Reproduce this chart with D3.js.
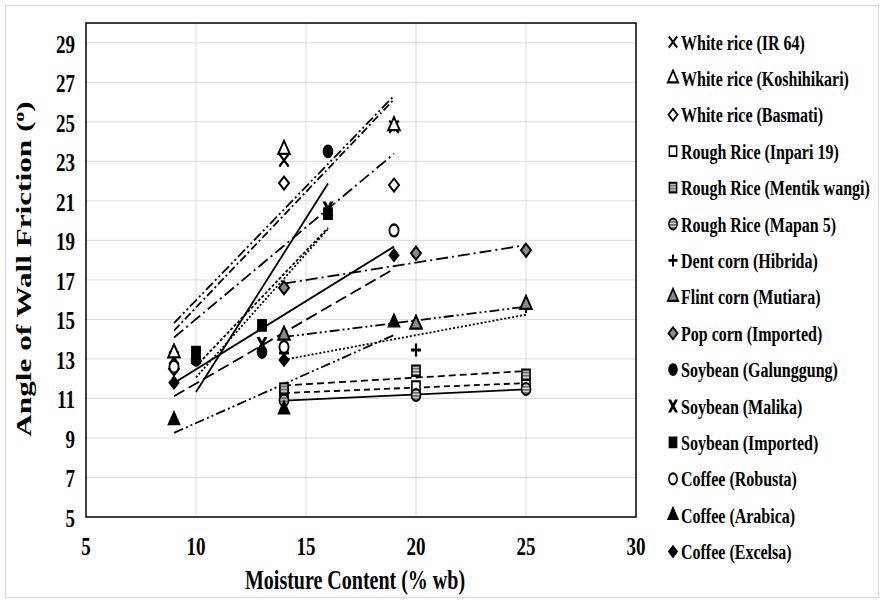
<!DOCTYPE html>
<html>
<head>
<meta charset="utf-8">
<script src="https://cdn.jsdelivr.net/npm/d3@7/dist/d3.min.js"></script>
<style>
  body { margin: 0; background: #fff; }
  text { font-family: "Liberation Serif", "Times New Roman", serif; font-weight: bold; fill: #000; }
</style>
</head>
<body>
<div id="chart"></div>
<script>
// moisture content (% wb) for each product group
var mcWhiteRice = [9, 14, 19]
var mcRoughRice = [14, 20, 25]
var mcCorn = [14, 20, 25]
var mcSoybean = [10, 13, 16]
var mcCoffee = [9, 14, 19]

// angle of wall friction (deg)
var afIR64 = [13.05, 23.05, 24.75]
var afKoshihikari = [13.3, 23.6, 24.8]
var afBasmati = [12.5, 21.9, 21.8]
var afInpari = [11.25, 11.6, 11.75]
var afMentik = [11.5, 12.4, 12.2]
var afMapan = [10.9, 11.17, 11.48]
var afDent = [13.3, 13.45, 15.65]
var afFlint = [14.2, 14.75, 15.75]
var afPop = [16.6, 18.35, 18.5]
var afGalunggung = [12.95, 13.35, 23.5]
var afMalika = [13.1, 13.75, 20.6]
var afImported = [13.35, 14.7, 20.35]
var afRobusta = [12.6, 13.6, 19.5]
var afArabica = [9.9, 10.45, 14.85]
var afExcelsa = [11.8, 12.95, 18.25]

var seriesNames = ["White rice (IR 64)", "White rice (Koshihikari)", "White rice (Basmati)",
  "Rough Rice (Inpari 19)", "Rough Rice (Mentik wangi)", "Rough Rice (Mapan 5)",
  "Dent  corn (Hibrida)", "Flint corn (Mutiara)", "Pop corn (Imported)",
  "Soybean (Galunggung)", "Soybean (Malika)", "Soybean (Imported)",
  "Coffee (Robusta)", "Coffee (Arabica)", "Coffee (Excelsa)"]

var yTicks = [5, 7, 9, 11, 13, 15, 17, 19, 21, 23, 25, 27, 29]
var xTicks = [5, 10, 15, 20, 25, 30]

var W = 884, H = 603
var SY = 1.35 // the original picture is stretched vertically

var svg = d3.select("#chart").append("svg")
  .attr("width", W)
  .attr("height", H)

// stripe pattern for the hatched markers
var defs = svg.append("defs")
var pat = defs.append("pattern")
  .attr("id", "stripes")
  .attr("patternUnits", "userSpaceOnUse")
  .attr("width", 4).attr("height", 2.4)
pat.append("rect").attr("width", 4).attr("height", 2.4).attr("fill", "#6e6e6e")
pat.append("rect").attr("y", 1.5).attr("width", 4).attr("height", 0.9).attr("fill", "#dcdcdc")

// outer chart border
svg.append("rect")
  .attr("x", 5.5).attr("y", 5.5)
  .attr("width", W - 11).attr("height", H - 11)
  .attr("fill", "none")
  .attr("stroke", "#d9d9d9")

var x = d3.scaleLinear().domain([5, 30]).range([86, 636])
var y = d3.scaleLinear().domain([5, 30]).range([517, 23])

// gridlines
svg.append("g").selectAll("line")
  .data(yTicks.slice(1))
  .enter().append("line")
  .attr("x1", x(5)).attr("x2", x(30))
  .attr("y1", function(d) { return y(d) }).attr("y2", function(d) { return y(d) })
  .attr("stroke", "#dcdcdc")
svg.append("g").selectAll("line")
  .data(xTicks.slice(1, -1))
  .enter().append("line")
  .attr("y1", y(5)).attr("y2", y(30))
  .attr("x1", function(d) { return x(d) }).attr("x2", function(d) { return x(d) })
  .attr("stroke", "#dcdcdc")

// tick labels
svg.append("g").selectAll("text")
  .data(yTicks)
  .enter().append("text")
  .attr("transform", function(d) { return "translate(75," + (y(d) + 1) + ") scale(1," + SY + ")" })
  .attr("text-anchor", "end")
  .attr("dy", "0.35em")
  .style("font-size", "19px")
  .text(function(d) { return d })

svg.append("g").selectAll("text")
  .data(xTicks)
  .enter().append("text")
  .attr("transform", function(d) { return "translate(" + x(d) + ",546) scale(1," + SY + ")" })
  .attr("text-anchor", "middle")
  .attr("dy", "0.35em")
  .style("font-size", "19px")
  .text(function(d) { return d })

// plot frame
svg.append("rect")
  .attr("x", x(5)).attr("y", y(30))
  .attr("width", x(30) - x(5)).attr("height", y(5) - y(30))
  .attr("fill", "none")
  .attr("stroke", "#000")
  .attr("stroke-width", 1.5)

// axis titles
svg.append("text")
  .attr("transform", "translate(355,580) scale(1," + SY + ")")
  .attr("text-anchor", "middle")
  .attr("dy", "0.35em")
  .style("font-size", "20px")
  .text("Moisture Content (% wb)")

var yt = svg.append("text")
  .attr("transform", "translate(23,269) rotate(-90) scale(1.42,1)")
  .attr("text-anchor", "middle")
  .attr("dy", "0.35em")
  .style("font-size", "22px")
yt.append("tspan").text("Angle of Wall Friction (")
yt.append("tspan").attr("dy", -7).style("font-size", "14px").text("o")
yt.append("tspan").attr("dy", 7).text(")")

// markers
var malikaPath = "M-5.5,-5.5h3.3l2.2,3.3 2.2,-3.3h3.3l-3.7,5.5 3.7,5.5h-3.3l-2.2,-3.3 -2.2,3.3h-3.3l3.7,-5.5z"
var diamondPath = "M0,-5L5,0L0,5L-5,0Z"
function sym(type, size) { return d3.symbol().type(type).size(size)() }
var markers = [
  { d: sym(d3.symbolX, 60), fill: "none", stroke: "#000", sw: 2 },
  { d: sym(d3.symbolTriangle, 58), fill: "#fff", stroke: "#000", sw: 1.8 },
  { d: diamondPath, fill: "#fff", stroke: "#000", sw: 1.8 },
  { d: sym(d3.symbolSquare, 66), fill: "#fff", stroke: "#000", sw: 1.6 },
  { d: sym(d3.symbolSquare, 66), fill: "url(#stripes)", stroke: "#000", sw: 1.6 },
  { d: sym(d3.symbolCircle, 66), fill: "url(#stripes)", stroke: "#000", sw: 1.6 },
  { plus: true },
  { d: sym(d3.symbolTriangle, 58), fill: "#8a8a8a", stroke: "#000", sw: 1.8 },
  { d: diamondPath, fill: "#8a8a8a", stroke: "#000", sw: 1.8 },
  { d: sym(d3.symbolCircle, 72), fill: "#000", stroke: "#000", sw: 1 },
  { d: malikaPath, fill: "#000", stroke: "none", sw: 0 },
  { d: sym(d3.symbolSquare, 76), fill: "#000", stroke: "#000", sw: 1 },
  { d: sym(d3.symbolCircle, 66), fill: "#fff", stroke: "#000", sw: 1.8 },
  { d: sym(d3.symbolTriangle, 60), fill: "#000", stroke: "#000", sw: 1 },
  { d: diamondPath, fill: "#000", stroke: "#000", sw: 1 }
]
var dashes = ["8,3,2,3", "10,3,2,3,2,3", "12,4,2,4", "6,4", "7,4", null,
  "2,2", "10,3,2,3,2,3", "12,4,2,4", null, "2,2", "3,2", null, "10,3,2,3,2,3", "12,5"]

var xsList = [mcWhiteRice, mcWhiteRice, mcWhiteRice, mcRoughRice, mcRoughRice, mcRoughRice,
  mcCorn, mcCorn, mcCorn, mcSoybean, mcSoybean, mcSoybean, mcCoffee, mcCoffee, mcCoffee]
var ysList = [afIR64, afKoshihikari, afBasmati, afInpari, afMentik, afMapan,
  afDent, afFlint, afPop, afGalunggung, afMalika, afImported, afRobusta, afArabica, afExcelsa]

var series = seriesNames.map(function(name, i) {
  return { name: name, xs: xsList[i], ys: ysList[i], marker: markers[i], dash: dashes[i] }
})

// linear trendline (least squares) over the range of each series
function trend(s) {
  var mx = d3.mean(s.xs), my = d3.mean(s.ys)
  var sxy = 0, sxx = 0
  s.xs.forEach(function(xv, i) { sxy += (xv - mx) * (s.ys[i] - my); sxx += (xv - mx) * (xv - mx) })
  var b = sxy / sxx, a = my - b * mx
  var x0 = d3.min(s.xs), x1 = d3.max(s.xs)
  return [[x0, a + b * x0], [x1, a + b * x1]]
}

var line = d3.line().x(function(d) { return x(d[0]) }).y(function(d) { return y(d[1]) })

svg.append("g").selectAll("path")
  .data(series)
  .enter().append("path")
  .attr("d", function(d) { return line(trend(d)) })
  .attr("fill", "none")
  .attr("stroke", "#000")
  .attr("stroke-width", 1.8)
  .attr("stroke-dasharray", function(d) { return d.dash })

function drawMarker(g, m) {
  if (m.plus) {
    g.append("path").attr("d", "M-5,0H5M0,-5V5").attr("stroke", "#000").attr("stroke-width", 2.2)
  } else {
    g.append("path").attr("d", m.d)
      .attr("fill", m.fill)
      .attr("stroke", m.stroke)
      .attr("stroke-width", m.sw)
  }
}

var pts = svg.append("g")
series.forEach(function(s) {
  s.xs.forEach(function(xv, i) {
    var g = pts.append("g")
      .attr("transform", "translate(" + x(xv) + "," + y(s.ys[i]) + ") scale(1,1.3)")
    drawMarker(g, s.marker)
  })
})

// legend
var legend = svg.append("g")
series.forEach(function(s, i) {
  var ly = 42 + i * 36.4
  var g = legend.append("g").attr("transform", "translate(673," + ly + ")")
  drawMarker(g.append("g").attr("transform", "scale(0.9,1.2)"), s.marker)
  g.append("text")
    .attr("transform", "translate(8,0) scale(1," + SY + ")")
    .attr("dy", "0.35em")
    .style("font-size", "16px")
    .text(s.name)
})
</script>
</body>
</html>
